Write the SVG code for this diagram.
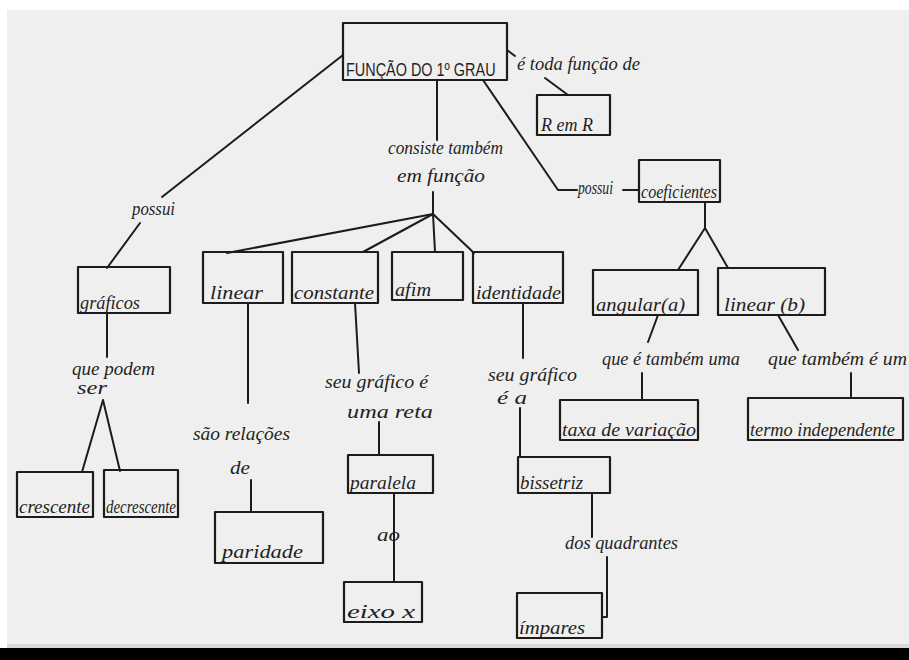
<svg xmlns="http://www.w3.org/2000/svg" width="909" height="660" viewBox="0 0 909 660">
  <defs>
    <style>
      .box { fill: none; stroke: #1c1c1c; stroke-width: 2.2; stroke-linejoin: round; }
      .edge { fill: none; stroke: #1c1c1c; stroke-width: 2; stroke-linecap: round; stroke-linejoin: round; }
      .t { font-family: "Liberation Serif", "DejaVu Serif", serif; font-style: italic; font-size: 19px; fill: #1f1f1f; }
      .cap { font-family: "Liberation Sans", "DejaVu Sans", sans-serif; font-size: 19px; fill: #1f1f1f; }
    </style>
  </defs>

  <!-- sheet -->
  <rect x="0" y="0" width="909" height="660" fill="#ffffff"/>
  <rect x="7" y="10" width="902" height="636" fill="#efefef"/>
  <rect x="7" y="644" width="902" height="4" fill="#d8d8d8"/>
  <rect x="0" y="648" width="909" height="12" fill="#000000"/>

  <!-- connectors -->
  <g id="connectors">
    <polyline class="edge" points="343,55 162,197"/>
    <polyline class="edge" points="140,223 107,268"/>
    <polyline class="edge" points="507,50 515,56"/>
    <polyline class="edge" points="545,78 568,95"/>
    <polyline class="edge" points="437,80 437,140"/>
    <polyline class="edge" points="433,192 433,214"/>
    <polyline class="edge" points="433,214 227,253"/>
    <polyline class="edge" points="433,214 363,252"/>
    <polyline class="edge" points="433,214 435,252"/>
    <polyline class="edge" points="433,214 474,253"/>
    <polyline class="edge" points="483,80 558,190 577,190"/>
    <polyline class="edge" points="623,190 639,190"/>
    <polyline class="edge" points="705,202 705,228 678,270"/>
    <polyline class="edge" points="705,228 728,268"/>
    <polyline class="edge" points="107,313 107,357"/>
    <polyline class="edge" points="82,472 103,400 120,471"/>
    <polyline class="edge" points="248,303 248,403"/>
    <polyline class="edge" points="251,480 251,512"/>
    <polyline class="edge" points="355,303 359,373"/>
    <polyline class="edge" points="379,422 379,455"/>
    <polyline class="edge" points="394,493 394,582"/>
    <polyline class="edge" points="523,303 523,358"/>
    <polyline class="edge" points="520,408 520,457"/>
    <polyline class="edge" points="592,493 592,537"/>
    <polyline class="edge" points="607,557 607,617 602,617"/>
    <polyline class="edge" points="658,315 648,342"/>
    <polyline class="edge" points="642,373 642,400"/>
    <polyline class="edge" points="778,315 798,350"/>
    <polyline class="edge" points="851,373 851,398"/>
  </g>

  <!-- linking phrases -->
  <g id="labels">
    <text class="t" x="517" y="70" textLength="123" lengthAdjust="spacingAndGlyphs">é toda função de</text>
    <text class="t" x="388" y="154" textLength="115" lengthAdjust="spacingAndGlyphs">consiste também</text>
    <text class="t" x="397" y="182" textLength="88" lengthAdjust="spacingAndGlyphs">em função</text>
    <text class="t" x="132" y="215" textLength="43" lengthAdjust="spacingAndGlyphs">possui</text>
    <text class="t" x="578" y="194" textLength="35" lengthAdjust="spacingAndGlyphs">possui</text>
    <text class="t" x="72" y="375" textLength="83" lengthAdjust="spacingAndGlyphs">que podem</text>
    <text class="t" x="77" y="394" textLength="30" lengthAdjust="spacingAndGlyphs">ser</text>
    <text class="t" x="193" y="440" textLength="97" lengthAdjust="spacingAndGlyphs">são relações</text>
    <text class="t" x="230" y="474" textLength="20" lengthAdjust="spacingAndGlyphs">de</text>
    <text class="t" x="325" y="388" textLength="103" lengthAdjust="spacingAndGlyphs">seu gráfico é</text>
    <text class="t" x="347" y="418" textLength="86" lengthAdjust="spacingAndGlyphs">uma reta</text>
    <text class="t" x="377" y="541" textLength="23" lengthAdjust="spacingAndGlyphs">ao</text>
    <text class="t" x="488" y="381" textLength="89" lengthAdjust="spacingAndGlyphs">seu gráfico</text>
    <text class="t" x="497" y="404" textLength="30" lengthAdjust="spacingAndGlyphs">é a</text>
    <text class="t" x="565" y="549" textLength="113" lengthAdjust="spacingAndGlyphs">dos quadrantes</text>
    <text class="t" x="602" y="365" textLength="138" lengthAdjust="spacingAndGlyphs">que é também uma</text>
    <text class="t" x="768" y="365" textLength="139" lengthAdjust="spacingAndGlyphs">que também é um</text>
  </g>

  <!-- concepts -->
  <g id="n-funcao">
    <rect class="box" x="343" y="23" width="164" height="57"/>
    <text class="cap" transform="translate(346,76) scale(0.76,1)" x="0" y="0">FUNÇÃO DO 1º GRAU</text>
  </g>
  <g id="n-rr">
    <rect class="box" x="537" y="95" width="73" height="40"/>
    <text class="t" x="541" y="131" textLength="52" lengthAdjust="spacingAndGlyphs">R em R</text>
  </g>
  <g id="n-coeficientes">
    <rect class="box" x="639" y="160" width="81" height="42"/>
    <text class="t" x="641" y="198" textLength="76" lengthAdjust="spacingAndGlyphs">coeficientes</text>
  </g>
  <g id="n-graficos">
    <rect class="box" x="78" y="267" width="92" height="46"/>
    <text class="t" x="80" y="309" textLength="60" lengthAdjust="spacingAndGlyphs">gráficos</text>
  </g>
  <g id="n-linear">
    <rect class="box" x="203" y="252" width="80" height="51"/>
    <text class="t" x="210" y="299" textLength="53" lengthAdjust="spacingAndGlyphs">linear</text>
  </g>
  <g id="n-constante">
    <rect class="box" x="292" y="252" width="86" height="51"/>
    <text class="t" x="294" y="299" textLength="80" lengthAdjust="spacingAndGlyphs">constante</text>
  </g>
  <g id="n-afim">
    <rect class="box" x="392" y="252" width="71" height="48"/>
    <text class="t" x="395" y="296" textLength="36" lengthAdjust="spacingAndGlyphs">afim</text>
  </g>
  <g id="n-identidade">
    <rect class="box" x="473" y="252" width="90" height="51"/>
    <text class="t" x="476" y="299" textLength="85" lengthAdjust="spacingAndGlyphs">identidade</text>
  </g>
  <g id="n-angular">
    <rect class="box" x="593" y="270" width="105" height="45"/>
    <text class="t" x="596" y="311" textLength="89" lengthAdjust="spacingAndGlyphs">angular(a)</text>
  </g>
  <g id="n-linear-b">
    <rect class="box" x="718" y="268" width="107" height="47"/>
    <text class="t" x="724" y="311" textLength="81" lengthAdjust="spacingAndGlyphs">linear (b)</text>
  </g>
  <g id="n-crescente">
    <rect class="box" x="17" y="472" width="76" height="45"/>
    <text class="t" x="19" y="513" textLength="71" lengthAdjust="spacingAndGlyphs">crescente</text>
  </g>
  <g id="n-decrescente">
    <rect class="box" x="104" y="470" width="74" height="47"/>
    <text class="t" x="106" y="513" textLength="70" lengthAdjust="spacingAndGlyphs">decrescente</text>
  </g>
  <g id="n-paridade">
    <rect class="box" x="215" y="512" width="108" height="51"/>
    <text class="t" x="222" y="558" textLength="81" lengthAdjust="spacingAndGlyphs">paridade</text>
  </g>
  <g id="n-paralela">
    <rect class="box" x="348" y="455" width="85" height="38"/>
    <text class="t" x="350" y="489" textLength="66" lengthAdjust="spacingAndGlyphs">paralela</text>
  </g>
  <g id="n-eixo">
    <rect class="box" x="344" y="582" width="78" height="40"/>
    <text class="t" x="347" y="618" textLength="68" lengthAdjust="spacingAndGlyphs">eixo x</text>
  </g>
  <g id="n-bissetriz">
    <rect class="box" x="518" y="457" width="92" height="36"/>
    <text class="t" x="520" y="489" textLength="63" lengthAdjust="spacingAndGlyphs">bissetriz</text>
  </g>
  <g id="n-impares">
    <rect class="box" x="517" y="593" width="85" height="45"/>
    <text class="t" x="519" y="634" textLength="66" lengthAdjust="spacingAndGlyphs">ímpares</text>
  </g>
  <g id="n-taxa">
    <rect class="box" x="560" y="400" width="138" height="40"/>
    <text class="t" x="562" y="436" textLength="134" lengthAdjust="spacingAndGlyphs">taxa de variação</text>
  </g>
  <g id="n-termo">
    <rect class="box" x="748" y="398" width="155" height="42"/>
    <text class="t" x="750" y="436" textLength="145" lengthAdjust="spacingAndGlyphs">termo independente</text>
  </g>
</svg>
